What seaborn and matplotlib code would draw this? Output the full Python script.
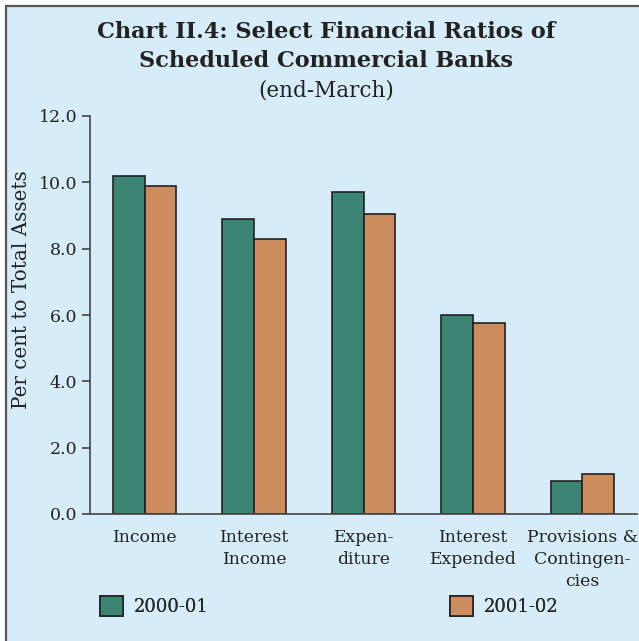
import matplotlib
matplotlib.use("Agg")
import matplotlib.pyplot as plt
from matplotlib.patches import Rectangle
import seaborn as sns
import pandas as pd

categories = ["Income", "Interest\nIncome", "Expen-\nditure", "Interest\nExpended",
              "Provisions &\nContingen-\ncies"]
series_names = ["2000-01", "2001-02"]
values_2000_01 = [10.2, 8.9, 9.7, 6.0, 1.0]
values_2001_02 = [9.9, 8.3, 9.05, 5.75, 1.2]
y_ticks = [0, 2, 4, 6, 8, 10, 12]

df = pd.DataFrame({
    "cat": categories * 2,
    "year": [series_names[0]] * 5 + [series_names[1]] * 5,
    "val": values_2000_01 + values_2001_02,
})

bg = "#D6EDF9"
green = "#3B8373"
orange = "#CD8C5E"
serif = ["DejaVu Serif"]

sns.set_theme(style="white")
plt.rcParams["font.family"] = serif

fig = plt.figure(figsize=(6.39, 6.41), dpi=100)
fig.patch.set_facecolor("white")
fig.patches.append(Rectangle((6 / 639, -0.1), 1.2, 1 - 5.5 / 641 + 0.1,
                             transform=fig.transFigure, facecolor=bg,
                             edgecolor="#555555", linewidth=1.6, zorder=-10))

ax = fig.add_axes([90 / 639, 1 - 514 / 641, (637 - 90) / 639, (514 - 116) / 641])
ax.set_facecolor("none")

sns.barplot(data=df, x="cat", y="val", hue="year", order=categories,
            hue_order=series_names, palette=[green, orange], width=0.58,
            edgecolor="#222222", linewidth=1.2, saturation=1, ax=ax, legend=True)

ax.set_xlim(-0.5, 4.5)
ax.set_ylim(0, 12)
ax.set_yticks(y_ticks)
ax.set_yticklabels([f"{v:.1f}" for v in y_ticks], fontsize=12.5, color="#222222")
ax.set_xticks(range(5))
ax.set_xticklabels(categories, fontsize=12.4, color="#222222", linespacing=1.38, va="top")
ax.set_xticks([-0.5, 0.5, 1.5, 2.5, 3.5, 4.5], minor=True)
ax.tick_params(axis="x", which="major", length=0, pad=11)
ax.tick_params(axis="x", which="minor", length=7, width=1.2, color="#444444", direction="out")
ax.tick_params(axis="y", length=6, width=1.2, color="#444444", direction="out", pad=3,
               left=True)
ax.set_xlabel("")
ax.set_ylabel("")
fig.text(22 / 639, 1 - 290 / 641, "Per cent to Total Assets", rotation=90,
         ha="center", va="center", fontsize=14.3, color="#222222")

for s in ["top", "right"]:
    ax.spines[s].set_visible(False)
for s in ["left", "bottom"]:
    ax.spines[s].set_color("#444444")
    ax.spines[s].set_linewidth(1.2)

handles, labels = ax.get_legend_handles_labels()
ax.get_legend().remove()
leg_x = [100 / 639, 450 / 639]
for h, l, lx in zip(handles, labels, leg_x):
    lg = fig.legend([h], [l], loc="center left", bbox_to_anchor=(lx, 1 - 606 / 641),
                    frameon=False, fontsize=13, handlelength=1.3, handleheight=1.3,
                    handletextpad=0.6, borderaxespad=0, borderpad=0)
    fig.add_artist(lg)

fig.text(0.51, 1 - 32 / 641, "Chart II.4: Select Financial Ratios of",
         ha="center", va="center", fontsize=16.1, fontweight="bold", color="#222222")
fig.text(0.51, 1 - 61 / 641, "Scheduled Commercial Banks",
         ha="center", va="center", fontsize=16.1, fontweight="bold", color="#222222")
fig.text(0.51, 1 - 90 / 641, "(end-March)",
         ha="center", va="center", fontsize=15.5, color="#222222")

fig.savefig("out.png", dpi=100, facecolor=fig.get_facecolor())
